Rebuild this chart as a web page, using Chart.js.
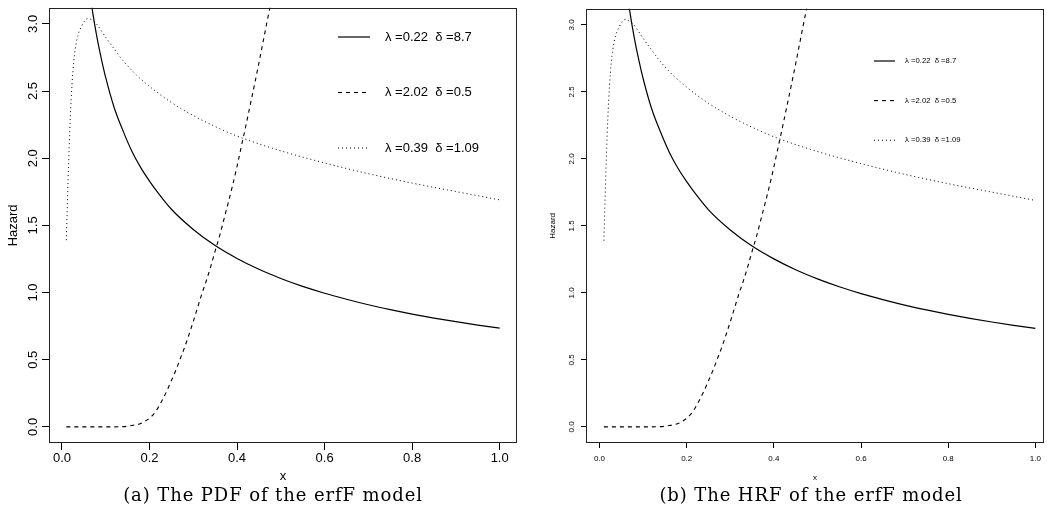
<!DOCTYPE html>
<html>
<head>
<meta charset="utf-8">
<title>erfF model - hazard curves</title>
<script src="https://cdn.jsdelivr.net/npm/chart.js@4.4.1/dist/chart.umd.min.js"></script>
<style>
    html, body { margin: 0; padding: 0; background: #fff; overflow: hidden; }
    #page { position: relative; width: 1047px; height: 521px; }
    .panel { position: absolute; top: 0; height: 521px; }
    #panelA { left: 0; width: 523px; }
    #panelB { left: 523px; width: 524px; }
    .caption {
        position: absolute; top: 484px; height: 22px;
        font-family: 'DejaVu Serif', serif; font-size: 18px; line-height: 22px;
        letter-spacing: 0.9px;
        text-align: center; color: #000; white-space: nowrap;
    }
    #capA { left: 0; width: 546px; }
    #capB { left: 575px; width: 472px; }
</style>
</head>
<body>
<div id="page">
    <div class="panel" id="panelA"><canvas id="chartA"></canvas></div>
    <div class="panel" id="panelB"><canvas id="chartB"></canvas></div>
    <div class="caption" id="capA">(a) The PDF of the erfF model</div>
    <div class="caption" id="capB">(b) The HRF of the erfF model</div>
</div>

<script>
// Series (x, hazard)
const seriesLabels = ['λ =0.22  δ =8.7', 'λ =2.02  δ =0.5', 'λ =0.39  δ =1.09'];

const solidX = [0.06, 0.07, 0.08, 0.09, 0.10, 0.12, 0.14, 0.16, 0.18, 0.20, 0.22, 0.25, 0.30, 0.35,
                0.40, 0.45, 0.50, 0.55, 0.60, 0.65, 0.70, 0.75, 0.80, 0.85, 0.90, 0.95, 1.00];
const solidY = [3.32, 3.09, 2.90, 2.74, 2.60, 2.37, 2.20, 2.05, 1.93, 1.83, 1.74, 1.62, 1.47, 1.35,
                1.254, 1.173, 1.105, 1.046, 0.995, 0.95, 0.909, 0.873, 0.84, 0.81, 0.783, 0.758, 0.735];

const dashedX = [0.01, 0.05, 0.10, 0.14, 0.16, 0.18, 0.19, 0.20, 0.21, 0.22, 0.23, 0.24, 0.25, 0.26,
                 0.27, 0.28, 0.29, 0.30, 0.31, 0.32, 0.33, 0.34, 0.35, 0.36, 0.37, 0.38, 0.39, 0.40,
                 0.41, 0.42, 0.43, 0.44, 0.45, 0.46, 0.47, 0.48];
const dashedY = [0, 0, 0, 0.002, 0.01, 0.025, 0.042, 0.065, 0.097, 0.145, 0.205, 0.27, 0.345, 0.42,
                 0.505, 0.59, 0.685, 0.785, 0.89, 0.995, 1.09, 1.195, 1.31, 1.42, 1.545, 1.67, 1.80, 1.94,
                 2.09, 2.24, 2.395, 2.55, 2.71, 2.875, 3.04, 3.20];

const dottedX = [0.010, 0.012, 0.014, 0.0165, 0.019, 0.023, 0.027, 0.034, 0.046, 0.059, 0.076, 0.100,
                 0.120, 0.140, 0.170, 0.200, 0.250, 0.300, 0.350, 0.400, 0.500, 0.600, 0.700, 0.800,
                 0.900, 1.000];
const dottedY = [1.39, 1.62, 1.84, 2.08, 2.30, 2.55, 2.72, 2.88, 2.99, 3.04, 3.01, 2.90,
                 2.81, 2.725, 2.62, 2.535, 2.415, 2.318, 2.236, 2.165, 2.055, 1.965, 1.885, 1.815,
                 1.752, 1.69];

const xTicks = [0, 0.2, 0.4, 0.6, 0.8, 1.0];
const xTickLabels = ['0.0', '0.2', '0.4', '0.6', '0.8', '1.0'];
const yTicks = [0, 0.5, 1.0, 1.5, 2.0, 2.5, 3.0];
const yTickLabels = ['0.0', '0.5', '1.0', '1.5', '2.0', '2.5', '3.0'];

(function() {
    'use strict';

    Chart.defaults.font.family = "'Liberation Sans', Arial, sans-serif";
    Chart.defaults.color = '#000';

    function toPoints(xs, ys) {
        return xs.map((x, i) => ({ x: x, y: ys[i] }));
    }

    // box round the plot region
    const framePlugin = {
        id: 'frame',
        afterDraw(chart) {
            const a = chart.chartArea;
            const c = chart.ctx;
            c.save();
            c.strokeStyle = '#222';
            c.lineWidth = 1;
            c.strokeRect(Math.round(a.left) + 0.5, Math.round(a.top) + 0.5,
                         Math.round(a.right - a.left) - 1, Math.round(a.bottom - a.top) - 1);
            c.restore();
        }
    };

    // legend drawn inside the plot, like R's legend()
    function legendPlugin(cfg) {
        return {
            id: 'innerLegend',
            afterDatasetsDraw(chart) {
                const c = chart.ctx;
                c.save();
                chart.data.datasets.forEach((ds, i) => {
                    const y = cfg.legY0 + i * cfg.legDy;
                    c.strokeStyle = '#000';
                    c.lineWidth = ds.borderWidth;
                    c.setLineDash(ds.borderDash || []);
                    c.beginPath();
                    c.moveTo(cfg.legX1, y);
                    c.lineTo(cfg.legX2, y);
                    c.stroke();
                    c.setLineDash([]);
                    c.fillStyle = '#000';
                    c.font = cfg.legFont + "px 'Liberation Sans', Arial, sans-serif";
                    c.textBaseline = 'middle';
                    c.textAlign = 'left';
                    c.fillText(ds.label, cfg.legTextX, y);
                });
                c.restore();
            }
        };
    }

    function makePanel(canvasId, cfg) {
        const ctx = document.getElementById(canvasId);
        if (!ctx) return;

        new Chart(ctx, {
            type: 'line',
            data: {
                datasets: [{
                    label: seriesLabels[0],
                    data: toPoints(solidX, solidY),
                    borderColor: '#000',
                    borderWidth: 1.2,
                    borderDash: []
                }, {
                    label: seriesLabels[1],
                    data: toPoints(dashedX, dashedY),
                    borderColor: '#000',
                    borderWidth: 1.1,
                    borderDash: [4, 4]
                }, {
                    label: seriesLabels[2],
                    data: toPoints(dottedX, dottedY),
                    borderColor: '#000',
                    borderWidth: 1,
                    borderDash: [1, 3]
                }]
            },
            options: {
                responsive: true,
                maintainAspectRatio: false,
                animation: false,
                parsing: false,
                elements: {
                    point: { radius: 0 },
                    line: { cubicInterpolationMode: 'monotone', fill: false }
                },
                layout: {
                    padding: { top: 4, right: cfg.padRight, left: 0, bottom: 0 }
                },
                plugins: {
                    legend: { display: false },
                    tooltip: { enabled: false }
                },
                scales: {
                    x: {
                        type: 'linear',
                        min: cfg.xMin,
                        max: cfg.xMax,
                        afterBuildTicks: s => { s.ticks = xTicks.map(v => ({ value: v })); },
                        afterFit: s => { s.height = 78; },
                        border: { display: false },
                        grid: {
                            drawOnChartArea: false,
                            drawTicks: true,
                            tickLength: cfg.tick,
                            color: '#000'
                        },
                        ticks: {
                            autoSkip: false,
                            maxRotation: 0,
                            padding: cfg.xTickPad,
                            font: { size: cfg.fs },
                            callback: (v, i) => xTickLabels[i]
                        },
                        title: {
                            display: true,
                            text: 'x',
                            font: { size: cfg.fs },
                            padding: { top: 0, bottom: cfg.xTitlePad }
                        }
                    },
                    y: {
                        type: 'linear',
                        min: -0.12,
                        max: 3.12,
                        afterBuildTicks: s => { s.ticks = yTicks.map(v => ({ value: v })); },
                        afterFit: s => { s.width = cfg.yWidth; },
                        border: { display: false },
                        grid: {
                            drawOnChartArea: false,
                            drawTicks: true,
                            tickLength: cfg.tick,
                            color: '#000'
                        },
                        ticks: {
                            autoSkip: false,
                            minRotation: 90,
                            maxRotation: 90,
                            crossAlign: 'center',
                            padding: cfg.yTickPad,
                            font: { size: cfg.fs },
                            callback: (v, i) => yTickLabels[i]
                        },
                        title: {
                            display: true,
                            text: 'Hazard',
                            font: { size: cfg.fs },
                            padding: { top: cfg.yTitlePad, bottom: 0 }
                        }
                    }
                }
            },
            plugins: [framePlugin, legendPlugin(cfg)]
        });
    }

    document.addEventListener('DOMContentLoaded', function() {
        makePanel('chartA', {
            xMin: -0.0296, xMax: 1.0396, padRight: 6,
            fs: 13, tick: 7, xTickPad: 1, xTitlePad: 37,
            yWidth: 49, yTickPad: 0, yTitlePad: 5.5,
            legX1: 338, legX2: 370, legTextX: 385, legY0: 37, legDy: 55.5, legFont: 13
        });
        makePanel('chartB', {
            xMin: -0.031, xMax: 1.0194, padRight: 1.5,
            fs: 8, tick: 5, xTickPad: 6, xTitlePad: 38.5,
            yWidth: 63, yTickPad: 4, yTitlePad: 25,
            legX1: 351, legX2: 372, legTextX: 382, legY0: 61, legDy: 39.6, legFont: 7.7
        });
    });
})();
</script>
</body>
</html>
